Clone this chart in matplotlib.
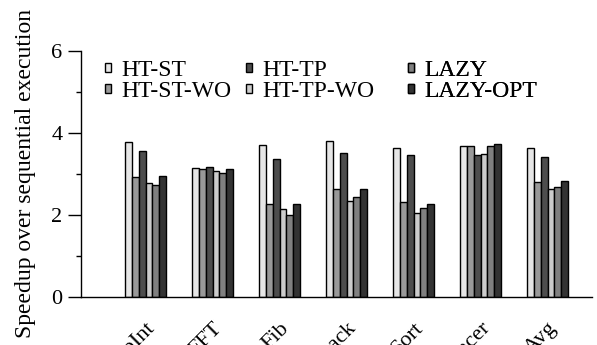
import numpy as np
import matplotlib
matplotlib.use("Agg")
import matplotlib.pyplot as plt
from matplotlib.ticker import MultipleLocator

plt.rcParams['font.family'] = ['Liberation Serif', 'DejaVu Serif']

# benchmark names (cut off at the bottom in the original)
benchmarks = ["LoopInt", "FFT", "Fib", "Knapsack", "Sort", "Raytracer", "Avg"]

series = ["HT-ST", "HT-ST-WO", "HT-TP", "HT-TP-WO", "LAZY", "LAZY-OPT"]
colors = ["#e6e6e6", "#999999", "#4d4d4d", "#cccccc", "#808080", "#333333"]

ht_st    = [3.78, 3.15, 3.70, 3.81, 3.64, 3.69, 3.62]
ht_st_wo = [2.92, 3.11, 2.26, 2.62, 2.32, 3.69, 2.81]
ht_tp    = [3.56, 3.16, 3.37, 3.51, 3.46, 3.47, 3.42]
ht_tp_wo = [2.78, 3.07, 2.13, 2.33, 2.05, 3.49, 2.63]
lazy     = [2.74, 3.03, 2.00, 2.44, 2.16, 3.69, 2.68]
lazy_opt = [2.96, 3.11, 2.26, 2.64, 2.26, 3.72, 2.82]
values = [ht_st, ht_st_wo, ht_tp, ht_tp_wo, lazy, lazy_opt]

fig = plt.figure(figsize=(5.97, 3.45), dpi=100)
ax = fig.add_axes([0.1357, 0.14, 0.856, 0.712])

x = np.arange(len(benchmarks))
w = 0.102
bars = []
for i, (name, vals, c) in enumerate(zip(series, values, colors)):
    bars.append(ax.bar(x + (i - 2.5) * w, vals, w, color=c, edgecolor="black",
                       linewidth=1.0, label=name))

ax.set_xlim(-0.963, 6.664)
ax.set_ylim(0, 6)
ax.yaxis.set_major_locator(MultipleLocator(2))
ax.yaxis.set_minor_locator(MultipleLocator(1))
ax.tick_params(axis="y", which="major", direction="out", length=9.5,
               width=1, labelsize=16, pad=4)
ax.tick_params(axis="y", which="minor", direction="out", length=3.6, width=1)
ax.tick_params(axis="x", length=0, pad=16)
ax.set_xticks(x)
ax.set_xticklabels(benchmarks, rotation=45, ha="right",
                   rotation_mode="anchor", fontsize=16)
for s in ["top", "right"]:
    ax.spines[s].set_visible(False)
ax.spines["left"].set_linewidth(1)
ax.spines["bottom"].set_linewidth(1)

ax.set_ylabel("Speedup over sequential execution", fontsize=17)
ax.yaxis.set_label_coords(-0.088, 0.5)

# legend: one small legend per column, as in the original
col_x = [0.047, 0.323, 0.640]
for k in range(3):
    leg = ax.legend(bars[2 * k:2 * k + 2], series[2 * k:2 * k + 2],
                    loc="upper left", bbox_to_anchor=(col_x[k], 0.964),
                    frameon=False, fontsize=17, handlelength=0.25,
                    handleheight=0.25, handletextpad=0.45,
                    labelspacing=0.0, borderaxespad=0, borderpad=0)
    ax.add_artist(leg)

fig.savefig("out.png", dpi=100)
